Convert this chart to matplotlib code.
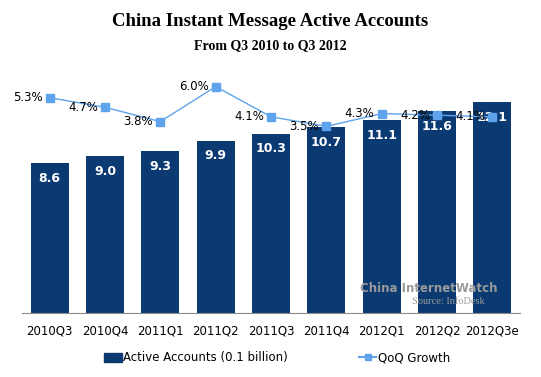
import matplotlib.pyplot as plt
from matplotlib.lines import Line2D
from matplotlib.patches import Patch

quarters = ["2010Q3", "2010Q4", "2011Q1", "2011Q2", "2011Q3",
            "2011Q4", "2012Q1", "2012Q2", "2012Q3e"]
accounts = [8.6, 9.0, 9.3, 9.9, 10.3, 10.7, 11.1, 11.6, 12.1]
growth = [5.3, 4.7, 3.8, 6.0, 4.1, 3.5, 4.3, 4.2, 4.1]

bar_color = "#0B3A72"
line_color = "#5EA3EC"

W, H = 541, 377
fig = plt.figure(figsize=(W / 100, H / 100), dpi=100)
ax = fig.add_axes([22 / W, (H - 313) / H, 498 / W, 243 / H])

x = range(len(quarters))
ax.bar(x, accounts, width=0.69, color=bar_color, zorder=2)
ax.set_xlim(-0.5, len(quarters) - 0.5)
ax.set_ylim(0, 243 / 17.4)
for i, v in enumerate(accounts):
    ax.text(i, v - 0.5, "%.1f" % v, ha="center", va="top", color="white",
            fontsize=9, fontweight="bold", zorder=3)

for s in ["top", "right", "left"]:
    ax.spines[s].set_visible(False)
ax.spines["bottom"].set_color("#8C8C8C")
ax.set_yticks([])
ax.set_xticks(list(x))
ax.set_xticklabels(quarters, fontsize=8.5)
ax.tick_params(axis="x", length=0, pad=8)

ax2 = ax.twinx()
ax2.set_ylim(-(313 - 182) / 15.9, (182 - 70) / 15.9)
ax2.plot(list(x), growth, color=line_color, lw=1, marker="s", ms=5.5,
         mfc=line_color, mec=line_color, zorder=4)
for i, g in enumerate(growth):
    ax2.text(i - 0.13, g, "%.1f%%" % g, ha="right", va="center", fontsize=8.5,
             color="black", zorder=5)
ax2.axis("off")

fig.text(0.5, 1 - 22 / H, "China Instant Message Active Accounts", ha="center",
         va="center", fontsize=13.5, fontweight="bold", family="Liberation Serif")
fig.text(0.5, 1 - 46 / H, "From Q3 2010 to Q3 2012", ha="center", va="center",
         fontsize=10, fontweight="bold", family="Liberation Serif")

fig.text(429 / W, 1 - 288 / H, "China InternetWatch", ha="center", va="center",
         fontsize=8.5, fontweight="bold", color="#9A9A9A", family="Liberation Sans Narrow",
         zorder=6)
fig.text(485 / W, 1 - 302 / H, "Source: InfoDesk", ha="right", va="center",
         fontsize=7.5, color="#9A9A9A", family="Liberation Serif", zorder=6)

handles = [Patch(color=bar_color, label="Active Accounts (0.1 billion)"),
           Line2D([], [], color=line_color, marker="s", ms=5, label="QoQ Growth")]
fig.legend(handles=handles, loc="center", bbox_to_anchor=(277 / W, 1 - 358 / H),
           ncol=2, frameon=False, fontsize=8.5, columnspacing=6,
           handlelength=1.5, handletextpad=0.1)

fig.savefig("out.png", dpi=100)
